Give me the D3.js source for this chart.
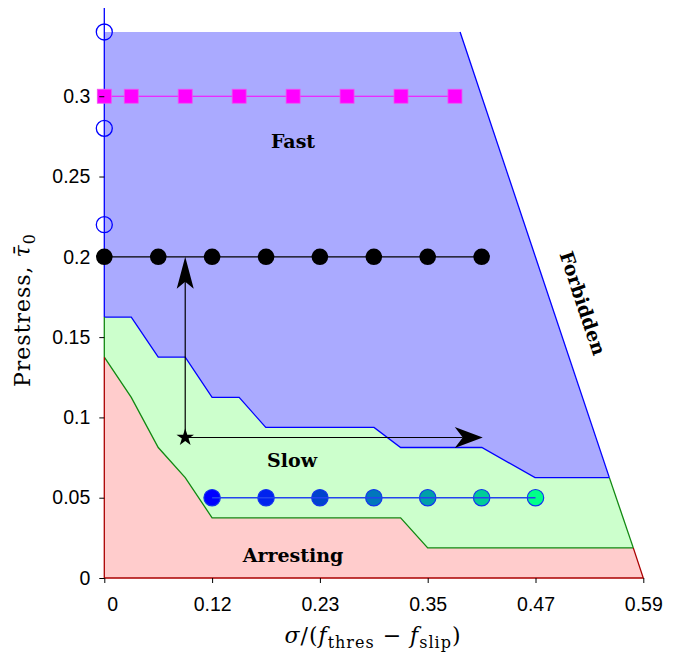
<!DOCTYPE html>
<html lang="en">
<head>
  <meta charset="UTF-8">
  <title>Prestress phase diagram</title>
  <script src="https://d3js.org/d3.v7.min.js"></script>
  <style>
    body { margin: 0; background: #fff; }
    svg { display: block; }
    .tick text { font: 19.5px "Liberation Sans", Arial, sans-serif; fill: #000; }
    .tick line { stroke: #000; stroke-width: 1; }
    .region-label { font: bold 19px "DejaVu Serif", serif; fill: #000; }
    .axis-label { font: 22px "DejaVu Serif", serif; fill: #000; letter-spacing: 1px; }
  </style>
</head>
<body>
  <svg id="chart"></svg>
  <script>
    const width = 679;
    const height = 654;

    // axis ticks
    const xTicks = [0, 0.1175, 0.235, 0.3525, 0.47, 0.5875];
    const xTickLabels = ["0", "0.12", "0.23", "0.35", "0.47", "0.59"];
    const yTicks = [0, 0.05, 0.1, 0.15, 0.2, 0.25, 0.3];
    const yTickLabels = ["0", "0.05", "0.1", "0.15", "0.2", "0.25", "0.3"];

    // fast / slow boundary (blue line)
    const fastSlowX = [0, 0.0294, 0.0588, 0.0882, 0.1175, 0.147, 0.176, 0.294, 0.323, 0.4115, 0.4695, 0.5505];
    const fastSlowY = [0.1625, 0.1625, 0.1375, 0.1375, 0.1125, 0.1125, 0.09375, 0.09375, 0.08125, 0.08125, 0.0625, 0.0625];
    // slow / arresting boundary (green line)
    const slowArrestX = [0, 0.0294, 0.0588, 0.0882, 0.1175, 0.323, 0.3525, 0.5766];
    const slowArrestY = [0.1375, 0.1125, 0.08125, 0.0625, 0.0375, 0.0375, 0.01875, 0.01875];
    // forbidden edge, top to bottom
    const forbiddenX = [0.3878, 0.5505, 0.5766, 0.5875];
    const forbiddenY = [0.34, 0.0625, 0.01875, 0];
    const fastTop = 0.34;
    const yMax = 0.355;

    // simulations
    const squaresX = [0, 0.0294, 0.0882, 0.147, 0.2058, 0.2646, 0.3234, 0.3822];
    const squaresY = 0.3;
    const blackX = [0, 0.0588, 0.1175, 0.1763, 0.235, 0.2938, 0.3525, 0.4113];
    const blackY = 0.2;
    const blueX = [0.1175, 0.1763, 0.235, 0.2938, 0.3525, 0.4113, 0.47];
    const blueY = 0.05;
    const blueColors = ["#0000ff", "#0022ee", "#0044cc", "#0077bb", "#00a0a8", "#00cc99", "#00ff88"];
    const openY = [0.34, 0.28, 0.22];

    // arrows from the star
    const star = [0.0882, 0.0875];
    const arrowUpTo = 0.2;
    const arrowRightTo = 0.4125;

    const x = d3.scaleLinear().domain([0, 0.5875]).range([104.3, 643.3]);
    const y = d3.scaleLinear().domain([0, yMax]).range([578, 7.9]);

    const svg = d3.select("#chart").attr("width", width).attr("height", height);

    const pts = (xs, ys) => xs.map((v, i) => [x(v), y(ys[i])]);
    const line = d3.line();

    const fs = pts(fastSlowX, fastSlowY);
    const sa = pts(slowArrestX, slowArrestY);
    const fb = pts(forbiddenX, forbiddenY);

    // regions
    const fastPoly = [[x(0), y(fastTop)], fb[0], fb[1]].concat(fs.slice().reverse());
    const slowPoly = fs.concat([fb[2]]).concat(sa.slice().reverse());
    const arrestPoly = sa.concat([fb[3], [x(0), y(0)]]);

    svg.append("path").attr("d", line(fastPoly) + "Z").attr("fill", "#aaaaff");
    svg.append("path").attr("d", line(slowPoly) + "Z").attr("fill", "#ccffcc");
    svg.append("path").attr("d", line(arrestPoly) + "Z").attr("fill", "#ffcccc");

    // boundary lines
    const edge = (p, c) => svg.append("path").attr("d", line(p))
      .attr("fill", "none").attr("stroke", c).attr("stroke-width", 1.3);
    edge([[x(0), y(yMax)], [x(0), y(fastSlowY[0])]], "#0000ff");
    edge(fs, "#0000ff");
    edge([fb[0], fb[1]], "#0000ff");
    edge([[x(0), y(fastSlowY[0])], [x(0), y(slowArrestY[0])]], "#118811");
    edge(sa, "#118811");
    edge([fb[1], fb[2]], "#118811");
    edge([[x(0), y(slowArrestY[0])], [x(0), y(0)], fb[3], fb[2]], "#aa0000");

    // open circles on the left edge
    svg.selectAll(".open").data(openY).enter().append("circle")
      .attr("cx", x(0)).attr("cy", d => y(d)).attr("r", 8)
      .attr("fill", "none").attr("stroke", "#0000ff").attr("stroke-width", 1.3);

    // magenta squares
    svg.append("line").attr("x1", x(squaresX[0])).attr("x2", x(squaresX[squaresX.length - 1]))
      .attr("y1", y(squaresY)).attr("y2", y(squaresY)).attr("stroke", "#ff00ff").attr("stroke-width", 1.2);
    svg.selectAll(".sq").data(squaresX).enter().append("rect")
      .attr("x", d => x(d) - 7).attr("y", y(squaresY) - 7).attr("width", 14).attr("height", 14)
      .attr("fill", "#ff00ff").attr("stroke", "#ee55ee").attr("stroke-width", 0.8);

    // black circles
    svg.append("line").attr("x1", x(blackX[0])).attr("x2", x(blackX[blackX.length - 1]))
      .attr("y1", y(blackY)).attr("y2", y(blackY)).attr("stroke", "#000").attr("stroke-width", 1.2);
    svg.selectAll(".bk").data(blackX).enter().append("circle")
      .attr("cx", d => x(d)).attr("cy", y(blackY)).attr("r", 8.3).attr("fill", "#000");

    // blue to green circles
    svg.selectAll(".bl").data(blueX).enter().append("circle")
      .attr("cx", d => x(d)).attr("cy", y(blueY)).attr("r", 8.2)
      .attr("fill", (d, i) => blueColors[i]).attr("stroke", "#1133ee").attr("stroke-width", 1.2);
    svg.append("line").attr("x1", x(blueX[0])).attr("x2", x(blueX[blueX.length - 1]))
      .attr("y1", y(blueY)).attr("y2", y(blueY)).attr("stroke", "#2244ee").attr("stroke-width", 1.5);

    // arrows
    const sx = x(star[0]), sy = y(star[1]);
    svg.append("line").attr("x1", sx).attr("y1", sy).attr("x2", sx).attr("y2", y(arrowUpTo) + 20)
      .attr("stroke", "#000").attr("stroke-width", 1.2);
    svg.append("line").attr("x1", sx).attr("y1", sy).attr("x2", x(arrowRightTo) - 20).attr("y2", sy)
      .attr("stroke", "#000").attr("stroke-width", 1.2);
    svg.append("path").attr("d", "M0,0L-8.5,32L0,25L8.5,32Z")
      .attr("transform", `translate(${sx},${y(arrowUpTo)})`).attr("fill", "#000");
    svg.append("path").attr("d", "M0,0L-28,-10.5L-20,0L-28,10.5Z")
      .attr("transform", `translate(${x(arrowRightTo)},${sy})`).attr("fill", "#000");
    svg.append("path").attr("d", d3.symbol(d3.symbolStar).size(95)())
      .attr("transform", `translate(${sx},${sy})`).attr("fill", "#000");

    // region labels
    const label = (t, px, py, rot) => svg.append("text").attr("class", "region-label")
      .attr("text-anchor", "middle").attr("dominant-baseline", "central")
      .attr("transform", `translate(${px},${py}) rotate(${rot || 0})`).text(t);
    label("Fast", 293, 141);
    label("Slow", 292, 460);
    label("Arresting", 293, 555);
    label("Forbidden", 583, 303, 71.5);

    // axes
    const xAxis = svg.append("g").attr("transform", `translate(0,578)`)
      .call(d3.axisBottom(x).tickValues(xTicks).tickFormat((d, i) => xTickLabels[i])
        .tickSize(5).tickPadding(14));
    xAxis.select(".domain").remove();
    xAxis.selectAll(".tick text").filter(d => d === 0).attr("dx", 8);
    const yAxis = svg.append("g").attr("transform", `translate(${x(0)},0)`)
      .call(d3.axisLeft(y).tickValues(yTicks).tickFormat((d, i) => yTickLabels[i])
        .tickSize(5).tickPadding(9));
    yAxis.select(".domain").remove();

    // axis titles
    const yl = svg.append("text").attr("class", "axis-label")
      .attr("text-anchor", "middle")
      .attr("transform", "translate(30,310) rotate(-90)");
    yl.append("tspan").text("Prestress, ");
    yl.append("tspan").attr("font-style", "italic").text("\u03C4\u0304");
    yl.append("tspan").attr("font-size", 16).attr("dy", 5).text("0");

    const xl = svg.append("text").attr("class", "axis-label")
      .attr("text-anchor", "middle").attr("x", 373).attr("y", 643);
    xl.append("tspan").attr("font-style", "italic").text("\u03C3");
    xl.append("tspan").text("/(");
    xl.append("tspan").attr("font-style", "italic").text("f");
    xl.append("tspan").attr("font-size", 16).attr("dy", 5).text("thres");
    xl.append("tspan").attr("dy", -5).text(" \u2212 ");
    xl.append("tspan").attr("font-style", "italic").text("f");
    xl.append("tspan").attr("font-size", 16).attr("dy", 5).text("slip");
    xl.append("tspan").attr("dy", -5).text(")");
  </script>
</body>
</html>
